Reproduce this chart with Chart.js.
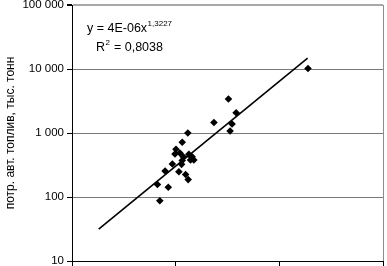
<!DOCTYPE html>
<html>
<head>
<meta charset="utf-8">
<script src="https://cdn.jsdelivr.net/npm/chart.js@4.4.1/dist/chart.umd.min.js"></script>
<style>
  html, body { margin: 0; padding: 0; background: #fff; }
  #wrap { width: 387px; height: 266px; position: relative; }
</style>
</head>
<body>
<div id="wrap"><canvas id="c" width="387" height="266"></canvas></div>
<script>
// ---- data ----
const xValues = [703000, 667000, 849000, 791000, 929000, 1140000, 1074000, 1248000, 1320000,
  1007000, 985000, 1099000, 1183000, 1340000, 1442000, 1497000, 1390000, 1157000, 1157000,
  1310000, 2340000, 3230000, 3830000, 3500000, 3350000, 18900000];
const yValues = [87.5, 157, 142, 255, 328, 324, 248, 225, 187,
  556, 470, 487, 426, 464, 426, 379, 379, 372, 716,
  1000, 1460, 3400, 2076, 1384, 1075, 10190];
const trendX = [181000, 18750000];
const trendY = [31.6, 14850];
const yTickValues = [10, 100, 1000, 10000, 100000];
const yTickLabels = ['10', '100', '1 000', '10 000', '100 000'];
const xTickValues = [100000, 1000000, 10000000, 100000000];
const yTitle = 'потр. авт. топлив, тыс. тонн';
const eqMain = 'y = 4E-06x';
const eqExp = '1,3227';
const r2Main = 'R';
const r2Exp = '2';
const r2Rest = ' = 0,8038';

const FONT = "'Liberation Sans', Arial, sans-serif";

const equationPlugin = {
  id: 'equation',
  afterDatasetsDraw(chart) {
    const ctx = chart.ctx;
    const a = chart.chartArea;
    ctx.save();
    ctx.fillStyle = '#000';
    ctx.textBaseline = 'alphabetic';
    ctx.textAlign = 'left';
    let x = a.left + 15, y = a.top + 27;
    ctx.font = '12.5px ' + FONT;
    ctx.fillText(eqMain, x, y);
    const w = ctx.measureText(eqMain).width;
    ctx.font = '8px ' + FONT;
    ctx.fillText(eqExp, x + w + 0.5, y - 6.5);
    x = a.left + 24; y = a.top + 46;
    ctx.font = '12.5px ' + FONT;
    ctx.fillText(r2Main, x, y);
    const wr = ctx.measureText(r2Main).width;
    ctx.font = '8px ' + FONT;
    ctx.fillText(r2Exp, x + wr + 0.5, y - 6.5);
    const w2 = ctx.measureText(r2Exp).width;
    ctx.font = '12.5px ' + FONT;
    ctx.fillText(r2Rest, x + wr + w2 + 1, y);
    ctx.restore();
  }
};

new Chart(document.getElementById('c'), {
  type: 'scatter',
  data: {
    datasets: [
      {
        type: 'line',
        data: trendX.map((x, i) => ({ x, y: trendY[i] })),
        borderColor: '#000',
        borderWidth: 1.6,
        pointRadius: 0,
        fill: false,
        order: 2
      },
      {
        data: xValues.map((x, i) => ({ x, y: yValues[i] })),
        pointStyle: 'rectRot',
        pointRadius: 3.8,
        backgroundColor: '#000',
        borderColor: '#000',
        borderWidth: 0,
        order: 1
      }
    ]
  },
  options: {
    responsive: false,
    animation: false,
    devicePixelRatio: 1,
    layout: { padding: { top: 5, right: 1, left: 0, bottom: 0 } },
    plugins: { legend: { display: false }, tooltip: { enabled: false } },
    scales: {
      x: {
        type: 'logarithmic',
        min: 100000, max: 100000000,
        afterBuildTicks: s => { s.ticks = xTickValues.map(v => ({ value: v })); },
        afterFit: s => { s.height = 5; s.paddingLeft = 0; s.paddingRight = 0; },
        ticks: { display: false },
        border: { color: '#000', width: 1 },
        grid: {
          drawOnChartArea: true,
          color: c => (c.tick && c.tick.value === 100000000) ? '#8c8c8c' : 'rgba(0,0,0,0)',
          tickColor: '#000',
          tickLength: 5,
          lineWidth: 1
        }
      },
      y: {
        type: 'logarithmic',
        min: 10, max: 100000,
        afterBuildTicks: s => { s.ticks = yTickValues.map(v => ({ value: v })); },
        afterFit: s => { s.width = 72; s.paddingTop = 0; s.paddingBottom = 0; },
        ticks: {
          color: '#000',
          font: { family: FONT, size: 11.5 },
          padding: 3,
          callback: (v) => { const i = yTickValues.indexOf(v); return i >= 0 ? yTickLabels[i] : ''; }
        },
        border: { color: '#000', width: 1 },
        grid: {
          color: c => (c.tick && c.tick.value === 100000) ? '#a8a8a8' : '#7a7a7a',
          lineWidth: c => (c.tick && c.tick.value === 100000) ? 2 : 1,
          tickColor: '#000',
          tickLength: 5
        },
        title: {
          display: true,
          text: yTitle,
          color: '#000',
          font: { family: FONT, size: 12 },
          padding: { top: 3, bottom: 0 }
        }
      }
    }
  },
  plugins: [equationPlugin]
});
</script>
</body>
</html>
